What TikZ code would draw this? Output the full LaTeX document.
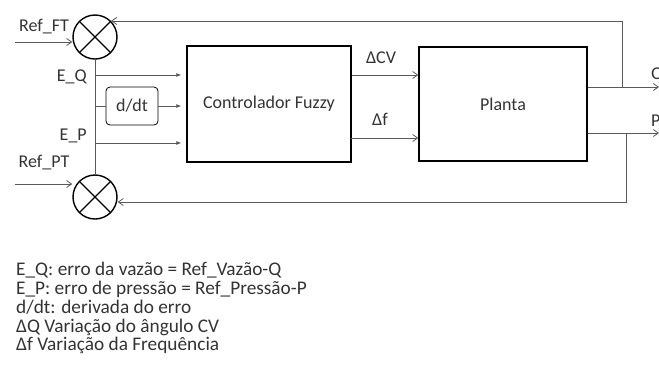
\documentclass[tikz,border=0pt]{standalone}
\usepackage{fontspec}
\setmainfont{Carlito}
\usetikzlibrary{arrows.meta,positioning,calc}

\begin{document}
\begin{tikzpicture}[
    x=1pt, y=-1pt,
    every node/.style={font=\fontsize{18}{18.7}\selectfont, text=black!80},
    block/.style={draw, line width=1.4pt, inner sep=0pt},
    sumnode/.style={draw, circle, line width=1.4pt, minimum size=44pt, inner sep=0pt,
        path picture={\draw[line width=1.4pt] (path picture bounding box.north west) -- (path picture bounding box.south east)
            (path picture bounding box.north east) -- (path picture bounding box.south west);}},
    sig/.style={-{Straight Barb[length=5pt,width=7pt]}, thick, black!65},
    inp/.style={-{Latex[length=5pt,width=4pt]}, thick, black!65, shorten >=5pt},
    wire/.style={thick, black!65}
]
\useasboundingbox (0,0) rectangle (659,365);

% blocos
\node[sumnode] (sumQ) at (95,37) {};
\node[sumnode] (sumP) at (95,197) {};
\node[block, minimum width=164pt, minimum height=116pt] (ctrl) at (269,104) {Controlador Fuzzy};
\node[block, minimum width=168pt, minimum height=114pt] (plant) at (503,104) {Planta};
\node[draw, thick, rounded corners=4pt, minimum width=52pt, minimum height=38pt, inner sep=0pt] (ddt) at (132,106) {d/dt};

% pontos auxiliares
\coordinate (refFT) at (15,42);
\coordinate (refPT) at (15,184);
\coordinate (eq) at (95,75);
\coordinate (ed) at (95,106);
\coordinate (ep) at (95,143);
\coordinate (df) at (351,138);
\coordinate (qtap) at (622,87);
\coordinate (qend) at (659,87);
\coordinate (ptap) at (626,133);
\coordinate (pend) at (659,133);
\coordinate (pbot) at (626,202);

% entradas e erros
\draw[sig] (refFT) -- (sumQ.west |- refFT);
\draw[sig] (refPT) -- (sumP.west |- refPT);
\draw[wire] (sumQ) -- (sumP);
\draw[inp] (eq) -- (eq -| ctrl.west);
\draw[wire] (ed) -- (ddt.west);
\draw[inp] (ddt.east) -- (ddt.east -| ctrl.west);
\draw[inp] (ep) -- (ep -| ctrl.west);

% controlador -> planta
\draw[sig] (ctrl.east |- eq) -- (plant.west |- eq);
\draw[sig] (df) -- (plant.west |- df);

% saidas e realimentacao
\draw[sig] (plant.east |- qtap) -- (qend);
\draw[sig] (plant.east |- ptap) -- (pend);
\draw[sig] (qtap) |- (sumQ.north east);
\draw[sig] (ptap) -- (pbot) -- (pbot -| sumP.east);

% rotulos
\node at (44,27) {Ref\_FT};
\node at (44,163) {Ref\_PT};
\node[anchor=east, inner sep=1pt] at (88,77) {E\_Q};
\node[anchor=east, inner sep=1pt] at (88,136) {E\_P};
\node at (381,58) {ΔCV};
\node at (380,119) {Δf};
\node[anchor=west, inner sep=0pt] at (651,75) {Q};
\node[anchor=west, inner sep=0pt] at (651,121) {P};

% legenda
\node[anchor=north west, align=left, inner sep=0pt, font=\fontsize{19.3}{18.8}\selectfont] (legend) at (16,262) {%
E\_Q: erro da vazão = Ref\_Vazão-Q\\
E\_P: erro de pressão = Ref\_Pressão-P\\
d/dt: derivada do erro\\
ΔQ Variação do ângulo CV\\
Δf Variação da Frequência};
\end{tikzpicture}
\end{document}
